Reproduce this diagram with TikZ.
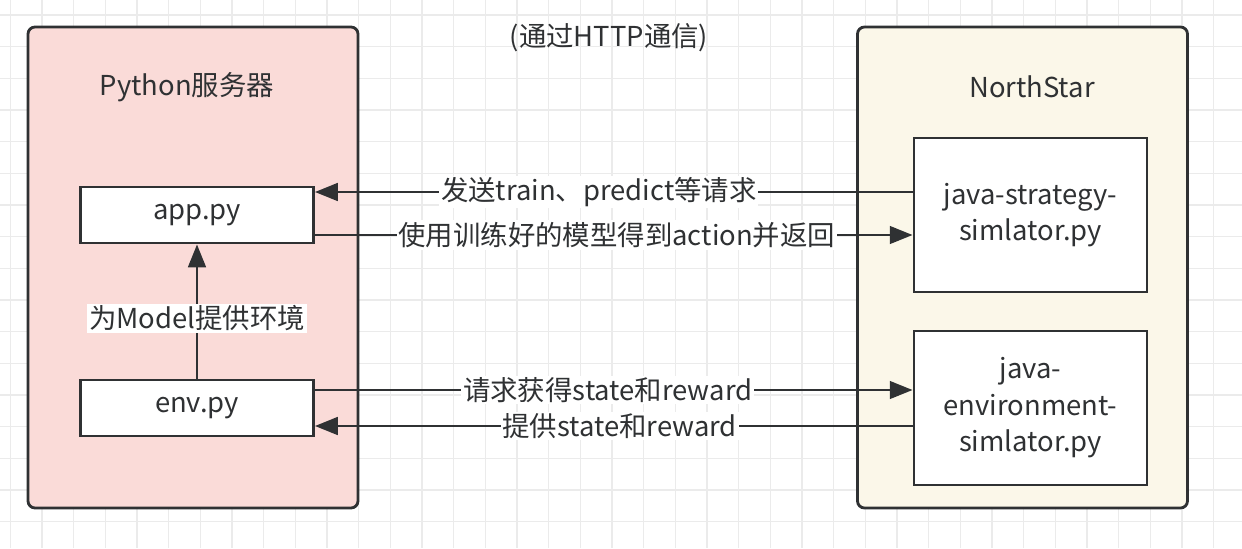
\documentclass[tikz,border=0pt]{standalone}
\usepackage{fontspec}
\setmainfont{Noto Sans CJK SC}
\usetikzlibrary{arrows.meta}
\definecolor{linedark}{HTML}{2F3133}
\definecolor{gridgray}{HTML}{EBEBEB}
\definecolor{pyfill}{HTML}{FADBD8}
\definecolor{nsfill}{HTML}{FBF7E9}
\tikzstyle{container} = [
    rectangle,
    rounded corners=4pt,
    minimum width=6.6cm,
    minimum height=9.62cm,
    line width=1.6pt,
    draw=linedark
]
\tikzstyle{filebox} = [
    rectangle,
    minimum width=4.66cm,
    minimum height=1.12cm,
    line width=1.6pt,
    fill=white,
    draw=linedark,
    text=linedark
]
\tikzstyle{simbox} = [
    rectangle,
    minimum width=4.66cm,
    minimum height=3.08cm,
    line width=1.6pt,
    fill=white,
    draw=linedark,
    text=linedark,
    align=center
]
\tikzstyle{title} = [text=linedark]
\tikzstyle{msg} = [fill=white, inner sep=1pt, text=linedark]
\tikzstyle{arrow} = [line width=1.6pt, draw=linedark, ->, >={Triangle[length=13pt,width=10pt]}]

\begin{document}
\begin{tikzpicture}[node distance=3.86cm, font=\fontsize{15.6}{20.8}\selectfont]

\useasboundingbox (0,0) rectangle (24.84,-10.96);
\fill [white] (0,0) rectangle (24.84,-10.96);

% background grid
\foreach \k in {0,...,38}
    \draw [gridgray, line width=0.7pt] ({0.206+0.6334*\k},0) -- ({0.206+0.6334*\k},-10.96);
\foreach \k in {0,...,16}
    \draw [gridgray, line width=0.7pt] (0,{-0.30-0.6334*\k}) -- (24.84,{-0.30-0.6334*\k});

\node (pyserver) [container, fill=pyfill] at (3.86,-5.35) {};
\node (northstar) [container, fill=nsfill] at (20.45,-5.35) {};

\node (pytitle) [title] at (3.74,-1.74) {Python服务器};
\node (nstitle) [title] at (20.64,-1.74) {NorthStar};
\node (http) [title] at (12.18,-0.76) {(通过HTTP通信)};

\node (app) [filebox] at (3.94,-4.3) {app.py};

\node (env) [filebox, below of=app] {env.py};

\node (strategy) [simbox, right of=app, xshift=12.81cm]
{java-strategy-\\simlator.py};

\node (javaenv) [simbox, below of=strategy]
{java-\\environment-\\simlator.py};

\draw [arrow] ([yshift=0.46cm]strategy.west) -- node[msg, pos=0.525]{发送train、predict等请求} ([yshift=0.46cm]app.east);
\draw [arrow] ([yshift=-0.4cm]app.east) -- node[msg, pos=0.505]{使用训练好的模型得到action并返回} ([yshift=-0.4cm]strategy.west);

\draw [arrow] ([yshift=0.36cm]env.east) -- node[msg, pos=0.49]{请求获得state和reward} ([yshift=0.36cm]javaenv.west);
\draw [arrow] ([yshift=-0.36cm]javaenv.west) -- node[msg, pos=0.49]{提供state和reward} ([yshift=-0.36cm]env.east);

\draw [arrow] (env) -- node[msg, pos=0.45]{为Model提供环境} (app);

\end{tikzpicture}
\end{document}
